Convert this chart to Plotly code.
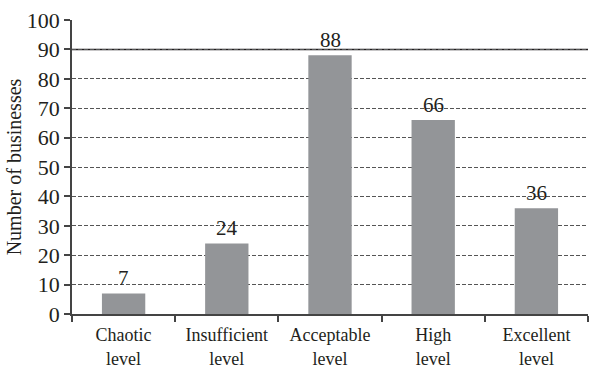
import plotly.graph_objects as go

categories = ["Chaotic<br>level", "Insufficient<br>level", "Acceptable<br>level",
              "High<br>level", "Excellent<br>level"]
counts = [7, 24, 88, 66, 36]
y_ticks = [0, 10, 20, 30, 40, 50, 60, 70, 80, 90, 100]

FONT = "'Liberation Serif', 'Times New Roman', 'DejaVu Serif', serif"
INK = "#231f20"

fig = go.Figure()
fig.add_trace(go.Bar(
    x=categories, y=counts,
    marker=dict(color="#939598", line=dict(width=0)),
    width=0.42,
))

# value labels above each bar
for cat, v in zip(categories, counts):
    fig.add_annotation(x=cat, y=v, text=str(v), showarrow=False,
                       yanchor="bottom", yshift=1,
                       font=dict(family=FONT, size=21, color=INK))

# solid reference line at 90
fig.add_shape(type="line", xref="paper", yref="y", x0=0, x1=1, y0=90, y1=90,
              line=dict(color="#231f20", width=1.5), layer="below")

fig.update_layout(
    width=595, height=371,
    margin=dict(l=72, r=7, t=20, b=57),
    plot_bgcolor="white", paper_bgcolor="white",
    showlegend=False,
    font=dict(family=FONT, color=INK),
)
fig.update_xaxes(
    type="category", range=[-0.5, 4.5], automargin=False,
    showline=True, linecolor="#444", linewidth=1.5,
    ticks="outside", tickson="boundaries", ticklen=6, tickcolor="#444", tickwidth=1.5,
    tickfont=dict(family=FONT, size=18, color=INK),
    ticklabelstandoff=4,
    showgrid=False,
)
fig.update_yaxes(
    range=[0, 100], tickvals=y_ticks, automargin=False,
    showline=True, linecolor="#444", linewidth=1.5,
    ticks="outside", ticklen=6, tickcolor="#444", tickwidth=1.5,
    tickfont=dict(family=FONT, size=22, color=INK),
    showgrid=True, gridcolor="#555", gridwidth=1, griddash="4px,2px",
    zeroline=False,
    title=dict(text="Number of businesses", font=dict(family=FONT, size=20, color=INK), standoff=0),
)

fig.write_html("out.html")
